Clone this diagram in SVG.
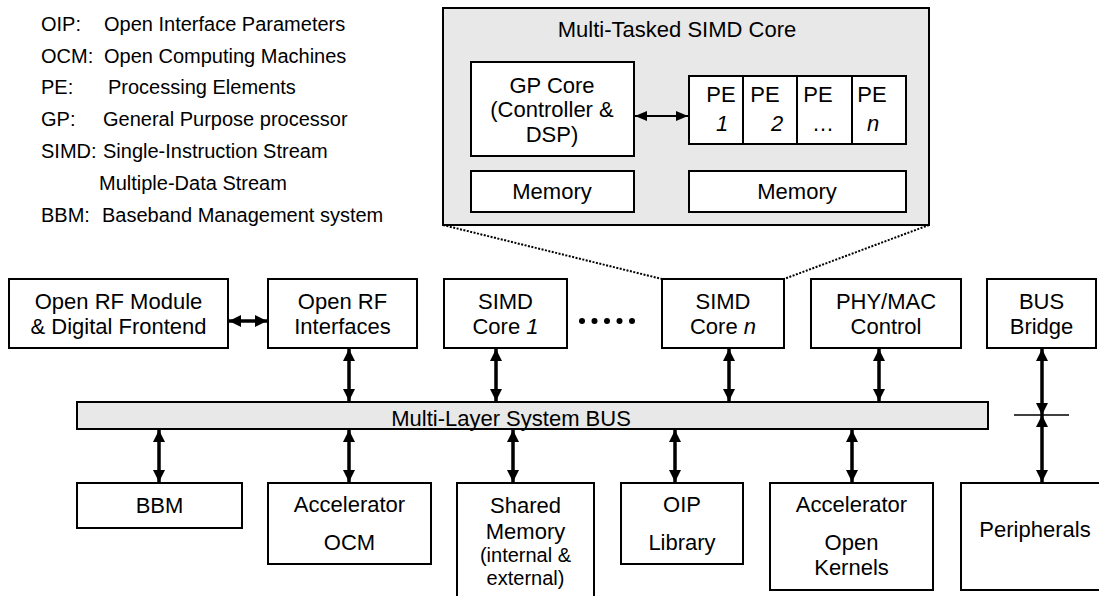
<svg xmlns="http://www.w3.org/2000/svg" width="1099" height="596" viewBox="0 0 1099 596">
<defs>
<style>
text{font-family:"Liberation Sans",Arial,sans-serif;fill:#000}
.t{font-size:22px;text-anchor:middle}
.s{font-size:20px;text-anchor:middle}
.lg{font-size:20px}
.box{fill:#fff;stroke:#000;stroke-width:2}
.gray{fill:#e8e8e8;stroke:#000;stroke-width:2}
.arr{stroke:#000;stroke-width:3.5;fill:none;marker-start:url(#ah);marker-end:url(#ah)}
.arr2{stroke:#000;stroke-width:2;fill:none;marker-start:url(#ah2);marker-end:url(#ah2)}
.dot{stroke:#000;stroke-width:2;stroke-dasharray:2 1.5;fill:none}
</style>
<marker id="ah" markerUnits="userSpaceOnUse" markerWidth="14" markerHeight="14" refX="12" refY="7" orient="auto-start-reverse" viewBox="0 0 14 14">
<path d="M0,1 L12,7 L0,13 z" fill="#000"/>
</marker>
<marker id="ah2" markerUnits="userSpaceOnUse" markerWidth="13" markerHeight="12" refX="12" refY="6" orient="auto-start-reverse" viewBox="0 0 13 12">
<path d="M0,1 L12,6 L0,11 z" fill="#000"/>
</marker>
</defs>
<rect width="1099" height="596" fill="#fff"/>

<g id="legend" class="lg">
<text x="41" y="31">OIP:</text><text x="104" y="31">Open Interface Parameters</text>
<text x="41" y="63">OCM:</text><text x="104" y="63">Open Computing Machines</text>
<text x="41" y="94">PE:</text><text x="108" y="94">Processing Elements</text>
<text x="41" y="126">GP:</text><text x="103" y="126">General Purpose processor</text>
<text x="41" y="158">SIMD:</text><text x="103" y="158">Single-Instruction Stream</text>
<text x="99" y="190">Multiple-Data Stream</text>
<text x="41" y="222">BBM:</text><text x="102" y="222">Baseband Management system</text>
</g>

<g id="simd-detail">
<rect class="gray" x="443" y="8" width="486" height="217"/>
<text class="t" x="677" y="37">Multi-Tasked SIMD Core</text>
<g id="gp-core">
<rect class="box" x="471" y="62" width="163" height="94"/>
<text class="t" x="552" y="93">GP Core</text>
<text class="t" x="552" y="117">(Controller &amp;</text>
<text class="t" x="552" y="142">DSP)</text>
</g>
<g id="pe-array">
<rect class="box" x="689" y="76" width="217" height="68"/>
<line x1="743" y1="76" x2="743" y2="144" stroke="#000" stroke-width="2"/>
<line x1="797" y1="76" x2="797" y2="144" stroke="#000" stroke-width="2"/>
<line x1="852" y1="76" x2="852" y2="144" stroke="#000" stroke-width="2"/>
<text class="t" x="721" y="102">PE</text>
<text class="t" x="765" y="102">PE</text>
<text class="t" x="818" y="102">PE</text>
<text class="t" x="872" y="102">PE</text>
<text class="t" x="722" y="131" font-style="italic">1</text>
<text class="t" x="777" y="131" font-style="italic">2</text>
<text class="t" x="823" y="131">…</text>
<text class="t" x="873" y="131" font-style="italic">n</text>
</g>
<g id="mem-gp">
<rect class="box" x="471" y="171" width="163" height="41"/>
<text class="t" x="552" y="199">Memory</text>
</g>
<g id="mem-pe">
<rect class="box" x="689" y="171" width="217" height="41"/>
<text class="t" x="797" y="199">Memory</text>
</g>
</g>

<g id="open-rf-module">
<rect class="box" x="9" y="279" width="219" height="69"/>
<text class="t" x="118.5" y="309">Open RF Module</text>
<text class="t" x="118.5" y="334">&amp; Digital Frontend</text>
</g>
<g id="open-rf-interfaces">
<rect class="box" x="268" y="279" width="149" height="69"/>
<text class="t" x="342.5" y="309">Open RF</text>
<text class="t" x="342.5" y="334">Interfaces</text>
</g>
<g id="simd-core-1">
<rect class="box" x="444" y="279" width="123" height="69"/>
<text class="t" x="505.5" y="309">SIMD</text>
<text class="t" x="505.5" y="334">Core <tspan font-style="italic">1</tspan></text>
</g>
<g id="ellipsis">
<circle cx="582" cy="321" r="3"/><circle cx="594.5" cy="321" r="3"/><circle cx="607" cy="321" r="3"/><circle cx="619.5" cy="321" r="3"/><circle cx="632" cy="321" r="3"/>
</g>
<g id="simd-core-n">
<rect class="box" x="662" y="279" width="122" height="69"/>
<text class="t" x="723" y="309">SIMD</text>
<text class="t" x="723" y="334">Core <tspan font-style="italic">n</tspan></text>
</g>
<g id="phy-mac">
<rect class="box" x="811" y="279" width="150" height="69"/>
<text class="t" x="886" y="309">PHY/MAC</text>
<text class="t" x="886" y="334">Control</text>
</g>
<g id="bus-bridge">
<rect class="box" x="987" y="279" width="109" height="69"/>
<text class="t" x="1041.5" y="309">BUS</text>
<text class="t" x="1041.5" y="334">Bridge</text>
</g>

<g id="bus">
<rect class="gray" x="77" y="402" width="911" height="27"/>
<text class="t" x="511" y="426">Multi-Layer System BUS</text>
</g>

<g id="bbm">
<rect class="box" x="77" y="483" width="165" height="45"/>
<text class="t" x="159.5" y="513">BBM</text>
</g>
<g id="accel-ocm">
<rect class="box" x="268" y="483" width="163" height="81"/>
<text class="t" x="349.5" y="512">Accelerator</text>
<text class="t" x="349.5" y="550">OCM</text>
</g>
<g id="shared-memory">
<rect class="box" x="457" y="483" width="137" height="140"/>
<text class="t" x="525.5" y="513">Shared</text>
<text class="t" x="525.5" y="539">Memory</text>
<text class="s" x="525.5" y="562">(internal &amp;</text>
<text class="s" x="525.5" y="585">external)</text>
</g>
<g id="oip-library">
<rect class="box" x="621" y="483" width="122" height="81"/>
<text class="t" x="682" y="512">OIP</text>
<text class="t" x="682" y="550">Library</text>
</g>
<g id="accel-kernels">
<rect class="box" x="770" y="483" width="163" height="107"/>
<text class="t" x="851.5" y="512">Accelerator</text>
<text class="t" x="851.5" y="550">Open</text>
<text class="t" x="851.5" y="575">Kernels</text>
</g>
<g id="peripherals">
<rect class="box" x="961" y="483" width="160" height="107"/>
<text class="t" x="1035" y="537">Peripherals</text>
</g>

<g id="connectors">
<line class="dot" x1="443" y1="225" x2="662" y2="279"/>
<line class="dot" x1="929" y1="225" x2="784" y2="279"/>
<line class="arr2" x1="635" y1="116" x2="688" y2="116"/>
<line class="arr" x1="229" y1="321" x2="267" y2="321"/>
<line class="arr" x1="349" y1="349" x2="349" y2="401"/>
<line class="arr" x1="496" y1="349" x2="496" y2="401"/>
<line class="arr" x1="729" y1="349" x2="729" y2="401"/>
<line class="arr" x1="879" y1="349" x2="879" y2="401"/>
<line class="arr" x1="1042" y1="349" x2="1042" y2="415"/>
<line class="arr" x1="1042" y1="415" x2="1042" y2="482"/>
<line x1="1014" y1="415" x2="1069" y2="415" stroke="#000" stroke-width="1.5"/>
<line class="arr" x1="159" y1="430" x2="159" y2="482"/>
<line class="arr" x1="349" y1="430" x2="349" y2="482"/>
<line class="arr" x1="513" y1="430" x2="513" y2="482"/>
<line class="arr" x1="675" y1="430" x2="675" y2="482"/>
<line class="arr" x1="852" y1="430" x2="852" y2="482"/>
</g>
</svg>
